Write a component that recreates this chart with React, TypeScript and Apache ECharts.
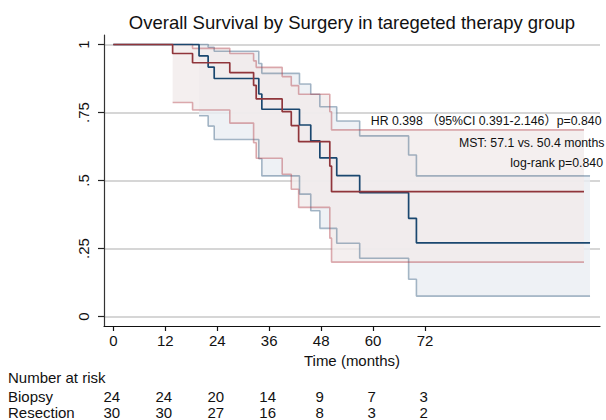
import React, { useEffect, useRef } from 'react';
import * as echarts from 'echarts';

// ---- data ----
const xTicks = [0, 12, 24, 36, 48, 60, 72];
const yTicks = [0, 0.25, 0.5, 0.75, 1];
const yTickText: Record<string, string> = { '0': '0', '0.25': '.25', '0.5': '.5', '0.75': '.75', '1': '1' };

// Biopsy (navy)
const biopsyTimes = [0, 19.8, 21.9, 23.3, 33.6, 34.3, 43.0, 45.6, 47.7, 51.6, 56.9, 68.2, 70.0, 110.1];
const biopsySurv = [1, 0.958, 0.917, 0.875, 0.818, 0.762, 0.704, 0.646, 0.583, 0.518, 0.455, 0.361, 0.271, 0.271];
const biopsyBandTimes = [19.8, 21.9, 23.3, 33.6, 34.3, 43.0, 45.6, 47.7, 51.6, 56.9, 68.2, 70.0, 110.1];
const biopsyLower = [0.738, 0.700, 0.651, 0.580, 0.517, 0.450, 0.389, 0.324, 0.269, 0.214, 0.137, 0.075, 0.075];
const biopsyUpper = [1.0, 0.99, 0.975, 0.93, 0.894, 0.855, 0.817, 0.771, 0.719, 0.664, 0.594, 0.517, 0.517];

// Resection (maroon)
const resectionTimes = [0, 13.7, 18.3, 26.9, 32.4, 33.0, 39.0, 41.1, 42.8, 50.0, 50.4, 108.7];
const resectionSurv = [1, 0.967, 0.933, 0.897, 0.850, 0.800, 0.753, 0.702, 0.643, 0.553, 0.459, 0.459];
const resectionBandTimes = [13.7, 18.3, 26.9, 32.4, 33.0, 39.0, 41.1, 42.8, 50.0, 50.4, 108.7];
const resectionLower = [0.787, 0.759, 0.711, 0.639, 0.582, 0.523, 0.468, 0.401, 0.288, 0.200, 0.200];
const resectionUpper = [1.0, 0.986, 0.967, 0.94, 0.916, 0.882, 0.849, 0.817, 0.753, 0.686, 0.686];

const riskGroups = ['Biopsy', 'Resection'];
const riskBiopsy = [24, 24, 20, 14, 9, 7, 3];
const riskResection = [30, 30, 27, 16, 8, 3, 2];

const titleText = 'Overall Survival by Surgery in taregeted therapy group';
const annotations = [
  'HR 0.398 \uFF0895%CI 0.391-2.146\uFF09p=0.840',
  'MST: 57.1 vs. 50.4 months',
  'log-rank p=0.840',
];

// ---- styling ----
const FONT = "'Liberation Sans', Arial, 'Noto Sans CJK SC', sans-serif";
const TXT = '#111111';
const NAVY = '#1a476f';
const MAROON = '#90353b';
const NAVY_LIGHT = 'rgba(26,71,111,0.38)';
const MAROON_LIGHT = 'rgba(176,60,68,0.42)';
const NAVY_FILL = 'rgba(234,238,243,0.8)';
const MAROON_FILL = 'rgba(241,235,235,0.8)';

const zip = (t: number[], v: number[]) => t.map((x, i) => [x, v[i]]);

function stepPts(t: number[], v: number[]) {
  const pts: number[][] = [];
  for (let i = 0; i < t.length; i++) {
    if (i > 0) pts.push([t[i], v[i - 1]]);
    pts.push([t[i], v[i]]);
  }
  return pts;
}

function bandSeries(t: number[], lo: number[], hi: number[], fill: string, z: number) {
  const poly = stepPts(t, hi).concat(stepPts(t, lo).reverse());
  return {
    type: 'custom',
    silent: true,
    z,
    data: [[t[0], hi[0]]],
    renderItem: (_params: any, api: any) => ({
      type: 'polygon',
      shape: { points: poly.map((p) => api.coord(p)) },
      style: { fill, stroke: 'none' },
    }),
  };
}

function lineSeries(t: number[], v: number[], color: string, width: number, z: number) {
  return {
    type: 'line',
    step: 'end',
    data: zip(t, v),
    symbol: 'none',
    silent: true,
    z,
    lineStyle: { color, width },
  };
}

export default function App() {
  const ref = useRef<HTMLDivElement>(null);
  useEffect(() => {
    if (!ref.current) return;
    const chart = echarts.init(ref.current, undefined, { renderer: 'svg' });
    chart.setOption({
      animation: false,
      grid: { left: 104, right: 6, top: 35, bottom: 94 },
      xAxis: {
        type: 'value',
        min: -2.15,
        max: 112.4,
        name: 'Time (months)',
        nameLocation: 'middle',
        nameGap: 25,
        nameTextStyle: { fontFamily: FONT, fontSize: 15, color: TXT },
        axisLine: { show: true, onZero: false, lineStyle: { color: '#111', width: 1.2 } },
        axisTick: { show: true, length: 5, customValues: xTicks, lineStyle: { color: '#111', width: 1.2 } },
        axisLabel: { customValues: xTicks, fontFamily: FONT, fontSize: 15, color: TXT, margin: 7 },
        splitLine: { show: false },
      },
      yAxis: {
        type: 'value',
        min: -0.035,
        max: 1.035,
        axisLine: { show: true, onZero: false, lineStyle: { color: '#333', width: 1.2 } },
        axisTick: { show: true, length: 6, customValues: yTicks, lineStyle: { color: '#222', width: 1.2 } },
        axisLabel: {
          customValues: yTicks,
          rotate: 90,
          fontFamily: FONT,
          fontSize: 15,
          color: TXT,
          margin: 13,
          formatter: (v: number) => yTickText[String(v)] ?? String(v),
        },
        splitLine: { show: true, lineStyle: { color: '#c8c8c8', width: 1.5 } },
      },
      series: [
        bandSeries(biopsyBandTimes, biopsyLower, biopsyUpper, NAVY_FILL, 1),
        bandSeries(resectionBandTimes, resectionLower, resectionUpper, MAROON_FILL, 1),
        lineSeries(biopsyBandTimes, biopsyLower, NAVY_LIGHT, 1.6, 2),
        lineSeries(biopsyBandTimes, biopsyUpper, NAVY_LIGHT, 1.6, 2),
        lineSeries(resectionBandTimes, resectionLower, MAROON_LIGHT, 1.6, 2),
        lineSeries(resectionBandTimes, resectionUpper, MAROON_LIGHT, 1.6, 2),
        lineSeries(biopsyTimes, biopsySurv, NAVY, 1.7, 3),
        lineSeries(resectionTimes, resectionSurv, MAROON, 1.7, 3),
      ],
    });

    const px = (t: number) => chart.convertToPixel({ xAxisIndex: 0 }, t) as number;
    const rows = [riskBiopsy, riskResection];
    const rowY = [396, 412.5];
    const graphics: any[] = [
      {
        type: 'text',
        x: 352,
        y: 22,
        style: { text: titleText, fontFamily: FONT, fontSize: 18.5, fill: TXT, textAlign: 'center', textVerticalAlign: 'middle' },
      },
      {
        type: 'text',
        x: 601.5,
        y: 120.5,
        z: 10,
        style: { text: annotations[0], fontFamily: FONT, fontSize: 12.3, fill: TXT, textAlign: 'right', textVerticalAlign: 'middle' },
      },
      {
        type: 'text',
        x: 604.5,
        y: 142.7,
        z: 10,
        style: { text: annotations[1], fontFamily: FONT, fontSize: 12.3, fill: TXT, textAlign: 'right', textVerticalAlign: 'middle' },
      },
      {
        type: 'text',
        x: 603,
        y: 163.3,
        z: 10,
        style: { text: annotations[2], fontFamily: FONT, fontSize: 12.3, fill: TXT, textAlign: 'right', textVerticalAlign: 'middle' },
      },
      {
        type: 'text',
        x: 8,
        y: 377.5,
        style: { text: 'Number at risk', fontFamily: FONT, fontSize: 15, fill: TXT, textAlign: 'left', textVerticalAlign: 'middle' },
      },
    ];
    rows.forEach((row, r) => {
      graphics.push({
        type: 'text',
        x: 8,
        y: rowY[r],
        style: { text: riskGroups[r], fontFamily: FONT, fontSize: 15, fill: TXT, textAlign: 'left', textVerticalAlign: 'middle' },
      });
      row.forEach((n, i) => {
        graphics.push({
          type: 'text',
          x: px(xTicks[i]) - 1.5,
          y: rowY[r],
          style: { text: String(n), fontFamily: FONT, fontSize: 15, fill: TXT, textAlign: 'center', textVerticalAlign: 'middle' },
        });
      });
    });
    chart.setOption({ graphic: graphics });
    return () => chart.dispose();
  }, []);
  return <div ref={ref} style={{ position: 'fixed', left: 0, top: 0, width: 606, height: 420, background: '#fff' }} />;
}
